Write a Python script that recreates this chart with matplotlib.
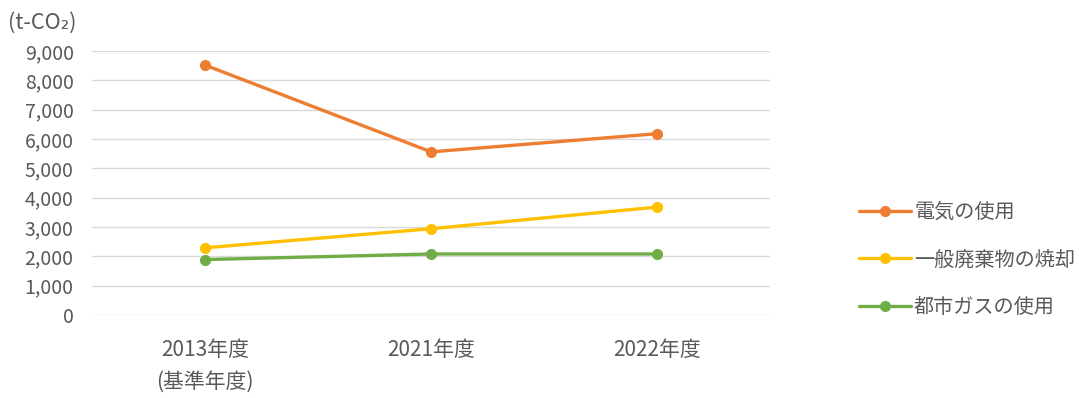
import matplotlib
matplotlib.use("Agg")
import matplotlib.pyplot as plt

plt.rcParams['font.family'] = ['Noto Sans CJK JP', 'DejaVu Sans']

# データ (t-CO2)
years = ["2013年度\n(基準年度)", "2021年度", "2022年度"]
denki = [8520, 5560, 6180]
haikibutsu = [2290, 2940, 3680]
toshigas = [1890, 2080, 2080]
yticks = list(range(0, 9001, 1000))

series = [
    ("電気の使用", denki, "#ED7D31"),
    ("一般廃棄物の焼却", haikibutsu, "#FFC000"),
    ("都市ガスの使用", toshigas, "#70AD47"),
]

text_color = "#595959"

fig = plt.figure(figsize=(10.79, 3.98), dpi=100)
ax = fig.add_axes([0.085, 0.2085, 0.629, 0.6635])

x = range(len(years))
for label, vals, color in series:
    ax.plot(x, vals, color=color, linewidth=2.4, marker="o", markersize=7,
            label=label, solid_capstyle="round")

ax.set_xlim(-0.5, 2.5)
ax.set_ylim(0, 9000)
ax.set_yticks(yticks)
ax.set_yticklabels([f"{v:,}" for v in yticks])
ax.set_xticks(list(x))
ax.set_xticklabels(years, linespacing=1.6, va="top")
ax.grid(axis="y", color="#D9D9D9", linewidth=1)
ax.set_axisbelow(True)
for s in ax.spines.values():
    s.set_visible(False)
ax.tick_params(axis="both", length=0, colors=text_color)
ax.tick_params(axis="y", pad=13, labelsize=14)
ax.tick_params(axis="x", pad=17, labelsize=15)

fig.text(0.007, 0.942, "(t-CO₂)", fontsize=15.5, color=text_color,
         ha="left", va="center")

leg = ax.legend(loc="center left", bbox_to_anchor=(0.779, 0.347),
                bbox_transform=fig.transFigure, frameon=False,
                fontsize=14.5, labelspacing=1.3, handlelength=2.6,
                handletextpad=0.15)
for t in leg.get_texts():
    t.set_color(text_color)

fig.savefig("out.png", dpi=100)
